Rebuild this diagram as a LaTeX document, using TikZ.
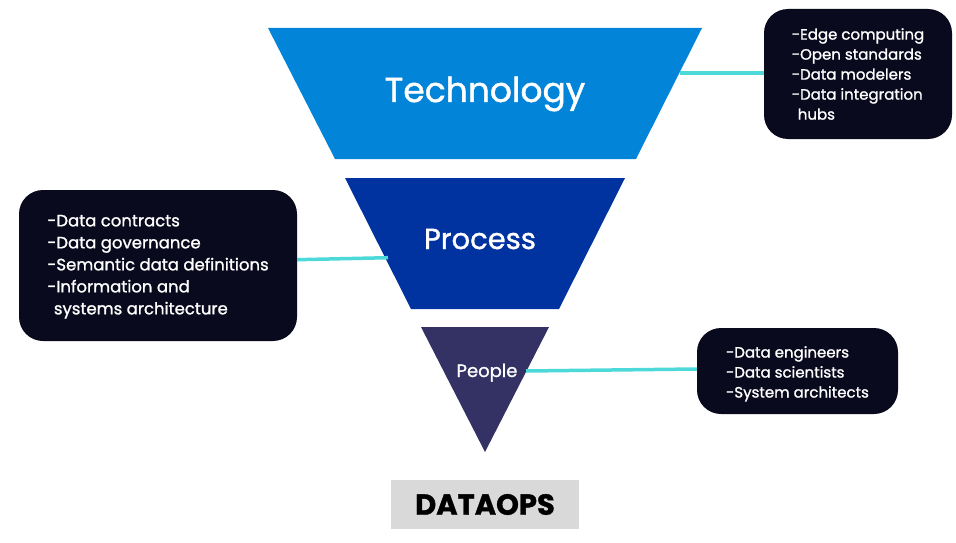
\documentclass[tikz,border=0pt]{standalone}
\usepackage{fontspec}
\setmainfont{Poppins}[FakeBold=1.2]
\usepackage{tikz}
\usetikzlibrary{calc}
\definecolor{TechBlue}{HTML}{0284D8}
\definecolor{ProcBlue}{HTML}{0033A0}
\definecolor{PeopleNavy}{HTML}{343264}
\definecolor{NoteBlack}{HTML}{0A0A1E}
\definecolor{LinkCyan}{HTML}{4DD9DA}
\definecolor{TagGrey}{HTML}{D9D9D9}
\tikzset{
  note/.style={fill=NoteBlack, rounded corners=24pt, text=white, align=left,
    font=\fontsize{15}{20}\selectfont, inner sep=0pt},
  link/.style={LinkCyan, line width=3.5pt},
  level/.style={text=white, anchor=base}
}

\begin{document}
\begin{tikzpicture}[x=1pt,y=-1pt]
\useasboundingbox (0,0) rectangle (956,543);
% funnel
\fill[TechBlue] (268,28) -- (702,28) -- (636,159) -- (335,159) --cycle;
\fill[ProcBlue] (345,178) -- (625,178) -- (559,309) -- (411,309) --cycle;
\fill[PeopleNavy] (421,327) -- (549,327) -- (485,452) --cycle;
\node[level, font=\fontsize{34.5}{34.5}\selectfont] (tech) at (485,102) {Technology};
\node[level, font=\fontsize{29}{29}\selectfont] (proc) at (480,249) {Process};
\node[level, font=\fontsize{18}{18}\selectfont] (people) at (487,377) {People};
% edge points of the funnel
\coordinate (techR) at (680,73);
\coordinate (procL) at (388,257.7);
\coordinate (peopleR) at (526,371);
% notes
\node[note, minimum width=188pt, minimum height=130pt] (techNote) at (858,74)
  {-Edge computing\\-Open standards\\-Data modelers\\-Data integration\\\hspace{0.4em}hubs};
\node[note, minimum width=278pt, minimum height=151pt,
  font=\fontsize{16.5}{22}\selectfont] (procNote) at (158,265.5)
  {\rule{0pt}{14pt}-Data contracts\\-Data governance\\-Semantic data definitions\\-Information and\\\hspace{0.4em}systems architecture};
\node[note, minimum width=201pt, minimum height=86pt] (peopleNote) at (797.5,371)
  {\rule{0pt}{17pt}-Data engineers\\-Data scientists\\-System architects};
% links
\draw[link] (techR) -- (techNote.west |- techR);
\draw[link] (procNote.east |- 0,259.7) -- (procL);
\draw[link] (peopleR) -- (peopleNote.west |- 0,369);
% tag
\node[fill=TagGrey, minimum width=188pt, minimum height=49pt, inner sep=0pt,
  font=\bfseries\fontsize{29}{29}\selectfont] (tag) at (485,504.5) {DATAOPS};
\end{tikzpicture}
\end{document}
